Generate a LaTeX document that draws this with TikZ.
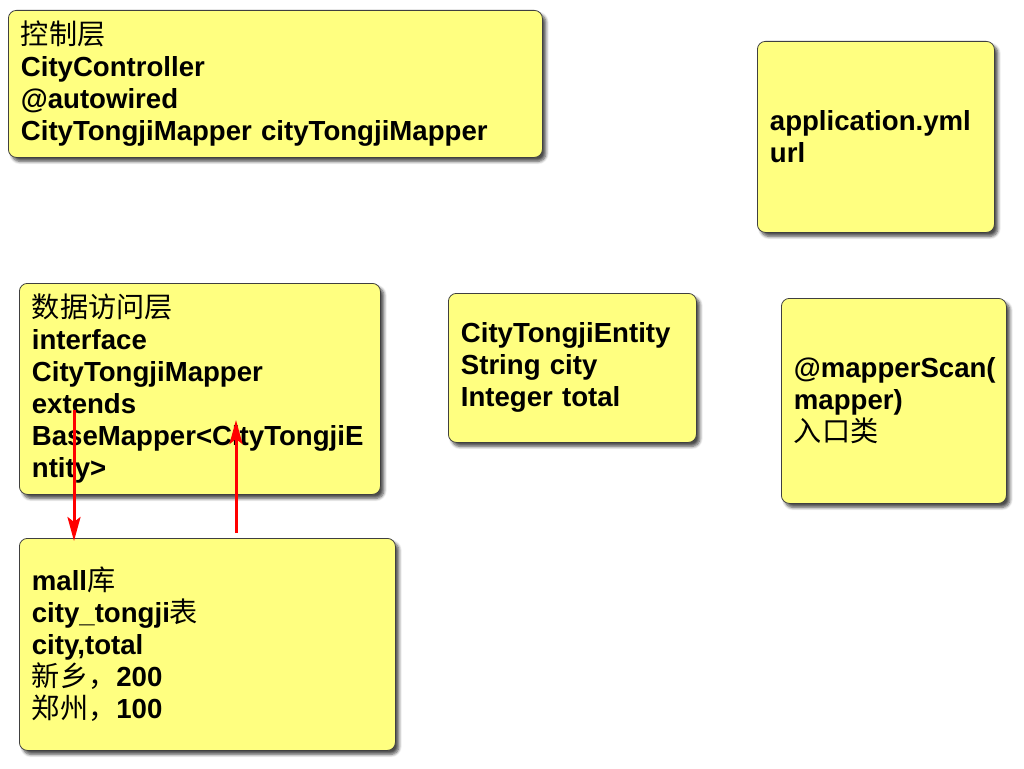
\documentclass[tikz,border=0pt]{standalone}
\usepackage{fontspec}
\setmainfont{Liberation Sans}
\newfontfamily\cjk[Scale=1.02]{Noto Sans CJK SC}
\usetikzlibrary{arrows.meta,shadows.blur}
\definecolor{noteyellow}{HTML}{FFFF80}
\newcommand{\zh}[1]{{\cjk\mdseries #1}}

\begin{document}
\begin{tikzpicture}[x=1pt,y=-1pt,
        note/.style={draw=black!75,line width=0.8pt,fill=noteyellow,rounded corners=8pt,
            blur shadow={shadow xshift=3.5pt,shadow yshift=-4pt,shadow blur steps=6,
                shadow blur radius=3pt,shadow opacity=70},
            anchor=north west,align=left,inner xsep=12.5pt,inner ysep=0pt,
            font=\bfseries\fontsize{27.6}{32}\selectfont},
        link/.style={draw=red,line width=3pt,-{Stealth[length=24pt,width=13pt,inset=5pt]}}]
    \useasboundingbox (0,0) rectangle (1024,768);
    \node[note,text width=509pt,minimum height=147pt] (ctrl) at (8,10)
        {\zh{控制层}\\CityController\\@autowired\\CityTongjiMapper cityTongjiMapper};
    \node[note,text width=212pt,minimum height=191pt] (yml) at (757,41)
        {application.yml\\url};
    \node[note,text width=336pt,minimum height=211pt] (mapper) at (19,283)
        {\zh{数据访问层}\\interface\\CityTongjiMapper\\extends\\BaseMapper<CityTongjiE\\ntity>};
    \node[note,text width=223pt,minimum height=149pt] (entity) at (448,293)
        {CityTongjiEntity\\String city\\Integer total};
    \node[note,text width=200pt,minimum height=205pt] (scan) at (781,298)
        {@mapperScan(\\mapper)\\\zh{入口类}};
    \node[note,text width=351pt,minimum height=212pt] (mall) at (19,538)
        {mall\zh{库}\\city\_tongji\zh{表}\\city,total\\\zh{新乡，}200\\\zh{郑州，}100};
    \coordinate (down) at (74,410);
    \coordinate (back) at (236,533);
    \coordinate (backend) at (236,420);
    \draw[link] (down) -- ([yshift=-3pt]down |- mall.north);
    \draw[link] (back) -- (backend);
\end{tikzpicture}
\end{document}
